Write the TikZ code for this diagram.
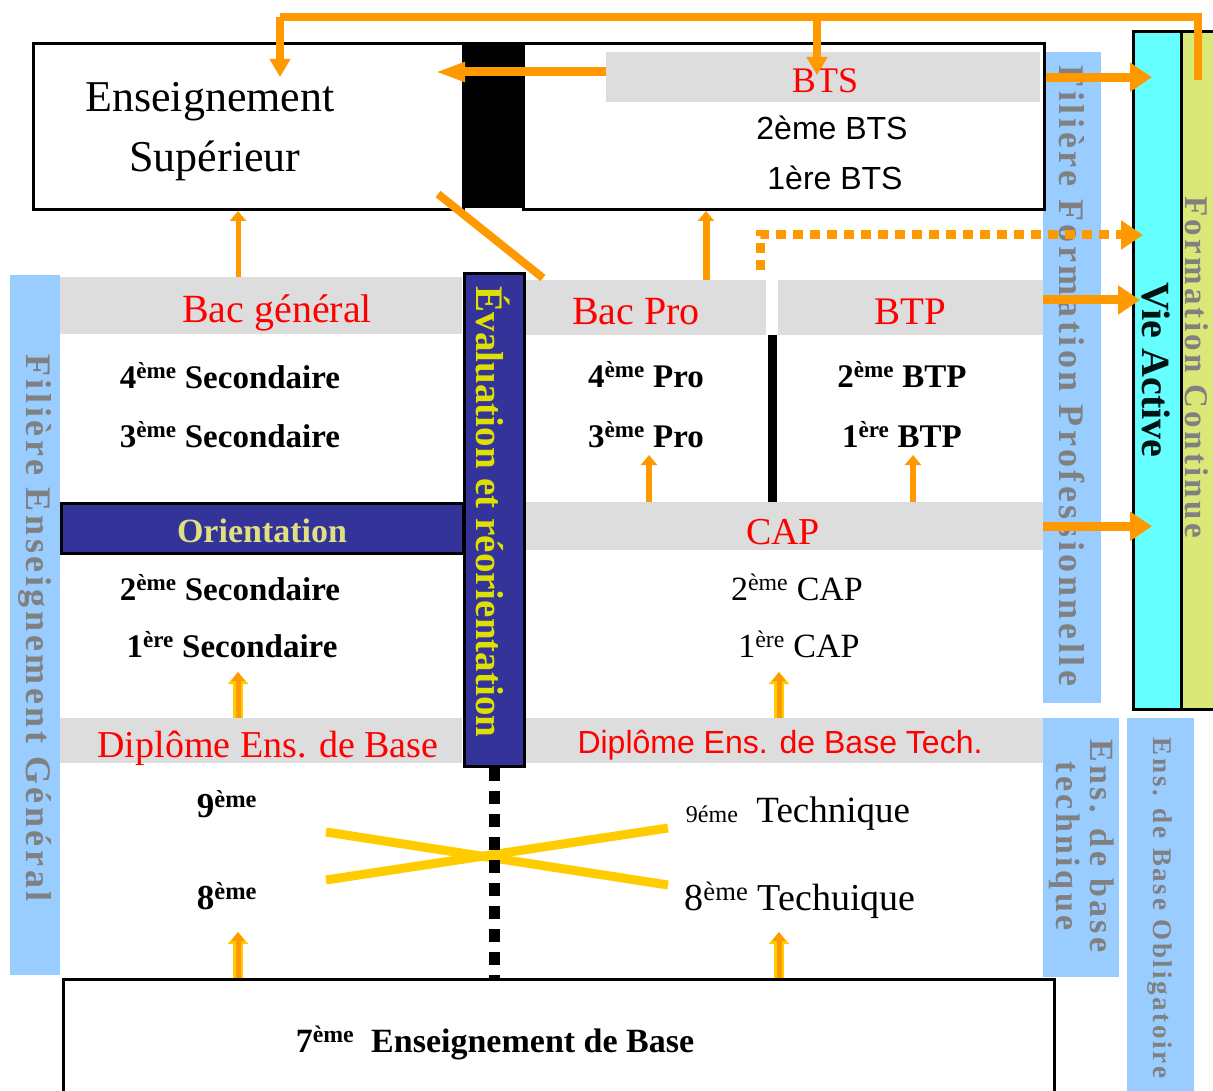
\documentclass[tikz,border=0pt]{standalone}
\usepackage{fontspec}
\setmainfont{Liberation Serif}
\newfontfamily\arialf{Liberation Sans}
\newfontfamily\spacedserif[LetterSpace=10]{Liberation Serif}
\usetikzlibrary{arrows.meta}

\definecolor{bandgrey}{HTML}{DDDDDD}
\definecolor{skyband}{HTML}{99CCFF}
\definecolor{vacyan}{HTML}{66FFFF}
\definecolor{fclime}{HTML}{DAE878}
\definecolor{navyband}{HTML}{333399}
\definecolor{orangeflow}{HTML}{FF9900}
\definecolor{crossy}{HTML}{FFCC00}
\definecolor{evalyel}{HTML}{E0E000}
\definecolor{orityel}{HTML}{E0E080}
\definecolor{fadetext}{HTML}{808080}
\newcommand{\sz}[1]{\fontsize{#1}{#1}\selectfont}

\tikzstyle{band} = [fill=bandgrey, inner sep=0pt, anchor=north west]
\tikzstyle{sky} = [fill=skyband, inner sep=0pt, anchor=north west]
\tikzstyle{frame} = [draw=black, line width=3pt, inner sep=0pt, anchor=north west]

\begin{document}
\begin{tikzpicture}[x=1pt,y=-1pt,
		navybox/.style={frame, fill=navyband},
		lbl/.style={anchor=base, inner sep=0pt},
		redlbl/.style={lbl, text=red},
		vtext/.style={rotate=-90, inner sep=0pt, text=fadetext},
		flow/.style={draw=orangeflow, line width=9pt, -{Triangle[length=22pt,width=28pt]}},
		topflow/.style={draw=orangeflow, line width=8pt, -{Triangle[length=18pt,width=20pt]}},
		rise/.style={draw=orangeflow, line width=6pt, -{Triangle[length=10pt,width=16pt]}},
		lift/.style={preaction={draw=crossy, line width=10pt, -{Triangle[length=12pt,width=20pt]}},
			draw=orangeflow, line width=5pt, -{Triangle[length=9pt,width=13pt]}},
		cross/.style={draw=crossy, line width=9pt}]
	\useasboundingbox (0,0) rectangle (1213,1091);
	\clip (0,0) rectangle (1213,1091);

	% side bands
	\node[sky, minimum width=50pt, minimum height=700pt] (gen) at (10,275) {};
	\node[sky, minimum width=58pt, minimum height=651pt] (ffp) at (1043,52) {};
	\node[sky, minimum width=76pt, minimum height=259pt] (ebt) at (1043,718) {};
	\node[sky, minimum width=67pt, minimum height=380pt] (ebo) at (1127,718) {};
	\node[frame, fill=vacyan, minimum width=48pt, minimum height=678pt] (va) at (1132,30) {};
	\node[frame, fill=fclime, minimum width=50pt, minimum height=678pt] (fc) at (1180,30) {};

	% grey bands
	\node[band, minimum width=434pt, minimum height=50pt] (btsband) at (606,52) {};
	\node[band, minimum width=402pt, minimum height=57pt] (bacgen) at (60,277) {};
	\node[band, minimum width=402pt, minimum height=45pt] (dipl) at (60,718) {};
	\node[band, minimum width=243pt, minimum height=55pt] (bacpro) at (523,280) {};
	\node[band, minimum width=265pt, minimum height=55pt] (btp) at (778,280) {};
	\node[band, minimum width=520pt, minimum height=48pt] (cap) at (523,502) {};
	\node[band, minimum width=520pt, minimum height=45pt] (diplt) at (523,718) {};

	% framed boxes
	\node[frame, minimum width=430pt, minimum height=166pt] (sup) at (32,42) {};
	\node[frame, minimum width=521pt, minimum height=166pt] (bts) at (522,42) {};
	\node[fill=black, inner sep=0pt, anchor=north west, minimum width=60pt, minimum height=166pt] (bar) at (462,42) {};
	\node[navybox, minimum width=402pt, minimum height=50pt] (orient) at (60,502) {};
	\node[navybox, minimum width=60pt, minimum height=493pt] (eval) at (463,272) {};
	\node[frame, minimum width=991pt, minimum height=130pt] (base) at (62,978) {};

	% texts
	\node[lbl, font=\sz{44}] (tens) at (210,112) {Enseignement};
	\node[lbl, font=\sz{44}] (tsup) at (215,172) {Supérieur};
	\node[redlbl, font=\sz{36}] (tbts) at (825,93) {BTS};
	\node[lbl, font=\arialf\sz{32}] (tbts2) at (832,140) {2ème BTS};
	\node[lbl, font=\arialf\sz{32}] (tbts1) at (835,190) {1ère BTS};
	\node[redlbl, font=\sz{40}] (tbacgen) at (277,323) {Bac général};
	\node[lbl, font=\bfseries\sz{33}] (tsec4) at (230,388) {4\textsuperscript{ème} Secondaire};
	\node[lbl, font=\bfseries\sz{33}] (tsec3) at (230,447) {3\textsuperscript{ème} Secondaire};
	\node[lbl, font=\bfseries\sz{34}, text=orityel] (torient) at (262,542) {Orientation};
	\node[lbl, font=\bfseries\sz{33}] (tsec2) at (230,600) {2\textsuperscript{ème} Secondaire};
	\node[lbl, font=\bfseries\sz{33}] (tsec1) at (232,657) {1\textsuperscript{ère} Secondaire};
	\node[redlbl, font=\sz{38}] (tdipl) at (268,757) {Diplôme Ens. de Base};
	\node[lbl, font=\bfseries\sz{35}] (tnine) at (227,817) {9\textsuperscript{ème}};
	\node[lbl, font=\bfseries\sz{35}] (teight) at (227,909) {8\textsuperscript{ème}};
	\node[redlbl, font=\sz{40}] (tbacpro) at (636,325) {Bac Pro};
	\node[redlbl, font=\sz{39}] (tbtp) at (910,325) {BTP};
	\node[lbl, font=\bfseries\sz{33}] (tpro4) at (646,387) {4\textsuperscript{ème} Pro};
	\node[lbl, font=\bfseries\sz{33}] (tpro3) at (646,447) {3\textsuperscript{ème} Pro};
	\node[lbl, font=\bfseries\sz{33}] (tbtp2) at (902,387) {2\textsuperscript{ème} BTP};
	\node[lbl, font=\bfseries\sz{33}] (tbtp1) at (902,447) {1\textsuperscript{ère} BTP};
	\node[redlbl, font=\sz{38}] (tcap) at (783,544) {CAP};
	\node[lbl, font=\sz{34}] (tcap2) at (797,600) {2\textsuperscript{ème} CAP};
	\node[lbl, font=\sz{34}] (tcap1) at (799,657) {1\textsuperscript{ère} CAP};
	\node[redlbl, font=\arialf\sz{32}] (tdiplt) at (780,753) {Diplôme Ens. de Base Tech.};
	\node[lbl, font=\sz{37}] (ttech9) at (798,822) {{\sz{24}9éme}\ \ Technique};
	\node[lbl, font=\sz{38}] (ttech8) at (800,910) {8\textsuperscript{ème} Techuique};
	\node[lbl, font=\bfseries\sz{34}] (tbase) at (495,1052) {7\textsuperscript{ème}\ \ Enseignement de Base};

	% vertical texts
	\node[vtext, font=\spacedserif\bfseries\sz{36}] (tgen) at (35,628) {Filière Enseignement Général};
	\node[vtext, font=\bfseries\sz{39}, text=evalyel] (teval) at (493,512) {Évaluation et réorientation};
	\node[vtext, font=\spacedserif\bfseries\sz{36}] (tffp) at (1072,376) {Filière Formation Professionnelle};
	\node[vtext, font=\bfseries\sz{40}, text=black!85!teal] (tva) at (1156,370) {Vie Active};
	\node[vtext, font=\spacedserif\bfseries\sz{33}] (tfc) at (1197,367) {Formation Continue};
	\node[vtext, align=center, font=\spacedserif\bfseries\fontsize{34}{34}\selectfont] (tebt) at (1082,846) {Ens. de base\\technique};
	\node[vtext, font=\spacedserif\bfseries\sz{27}] (tebo) at (1160,908) {Ens. de Base Obligatoire};

	% crossing and dividers
	\draw[cross] (326,832) -- (668,885);
	\draw[cross] (326,880) -- (668,828);
	\draw[line width=11pt, dash pattern=on 13pt off 10pt] (eval.south) -- (base.north -| eval.south);
	\draw[line width=9pt] (772,335) -- (cap.north -| 772,0);

	% flows
	\coordinate (fcin) at (1198,80);
	\coordinate (supin) at (280,77);
	\coordinate (btsin) at (817,75);
	\draw[topflow, -] (fcin) |- (supin |- 0,17) -- (btsin |- 0,17);
	\draw[topflow] (supin |- 0,17) -- (supin);
	\draw[topflow] (btsin |- 0,17) -- (btsin);
	\draw[draw=orangeflow, line width=9pt, -{Triangle[length=30pt,width=18pt]}] (btsband.west |- 0,72) -- (435,72);
	\draw[flow, shorten >=-20pt] (bts.east |- btsband.center) -- (va.west |- btsband.center);
	\draw[flow, shorten >=-8pt] (btp.east |- 0,300) -- (va.west |- 0,300);
	\draw[flow, shorten >=-20pt] (cap.east) -- (va.west |- cap.east);
	\coordinate (dotstart) at (760,270);
	\draw[flow, dash pattern=on 10pt off 7pt] (dotstart) |- (1143,235);
	\draw[draw=orangeflow, line width=8pt] (438,194) -- (543,278);
	\draw[rise, line width=5pt] (bacgen.north -| 238,0) -- (sup.south -| 238,0);
	\draw[rise, line width=7pt] (bacpro.north -| 706,0) -- (bts.south -| 706,0);
	\draw[rise] (cap.north -| 649,0) -- (649,455);
	\draw[rise] (cap.north -| 913,0) -- (913,455);
	\draw[lift] (dipl.north -| 238,0) -- (238,672);
	\draw[lift] (diplt.north -| 779,0) -- (779,672);
	\draw[lift] (base.north -| 238,0) -- (238,932);
	\draw[lift] (base.north -| 779,0) -- (779,932);
\end{tikzpicture}
\end{document}
